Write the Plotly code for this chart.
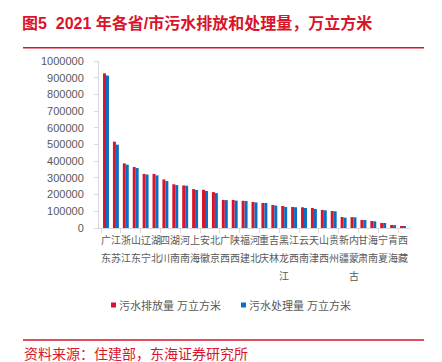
import plotly.graph_objects as go

provinces = ["广东", "江苏", "浙江", "山东", "辽宁", "湖北", "四川", "湖南", "河南", "上海",
             "安徽", "北京", "广西", "陕西", "福建", "河北", "重庆", "吉林", "黑龙江", "江西",
             "云南", "天津", "山西", "贵州", "新疆", "内蒙古", "甘肃", "海南", "宁夏", "青海", "西藏"]

discharge = [926000, 517000, 387000, 365000, 324000, 324000, 291000, 262000, 255000, 233000,
             229000, 215000, 168000, 168000, 163000, 156000, 150000, 138000, 132000, 126000,
             124000, 120000, 108000, 102000, 66000, 65000, 48000, 42000, 30000, 18000, 12000]

treatment = [913000, 499000, 379000, 359000, 320000, 315000, 281000, 257000, 253000, 228000,
             222000, 209000, 167000, 164000, 162000, 153000, 150000, 134000, 126000, 124000,
             120000, 114000, 106000, 100000, 62000, 64000, 48000, 40000, 30000, 17000, 8000]

series_names = ["污水排放量 万立方米", "污水处理量 万立方米"]
title_text = "图5  2021 年各省/市污水排放和处理量，万立方米"
source_text = "资料来源：住建部，东海证券研究所"

RED = "#d9142b"
BLUE = "#0a6fc2"
GRAY = "#595959"
AXIS = "#d9d9d9"
FONT = "Liberation Sans, Arial, Noto Sans CJK SC, sans-serif"

OFF = 8  # page body margin
W, H = 442 - OFF, 362 - OFF
# plot area in page pixels
PL, PR, PT, PB = 99, 410, 61, 228
L, R, T, B = PL - OFF, PR - OFF, PT - OFF, PB - OFF


def px(x):
    return (x - PL) / (PR - PL)


def py(y):
    return (PB - y) / (PB - PT)


fig = go.Figure()
fig.add_bar(x=provinces, y=discharge, name=series_names[0], marker_color=RED,
            marker_line_width=0, showlegend=False)
fig.add_bar(x=provinces, y=treatment, name=series_names[1], marker_color=BLUE,
            marker_line_width=0, showlegend=False)

annotations = []
# vertical category labels (one character per line)
for name in provinces:
    for j, ch in enumerate(name):
        annotations.append(dict(
            x=name, xref="x", y=0, yref="paper", yanchor="middle", xanchor="center",
            yshift=-(12 + 18 * j), text=ch, showarrow=False,
            font=dict(size=10, color=GRAY, family=FONT)))

# legend (manual)
legend_items = [(series_names[0], RED, 111), (series_names[1], BLUE, 241)]
shapes = []
for nm, col, x0 in legend_items:
    shapes.append(dict(type="rect", xref="paper", yref="paper",
                       x0=px(x0), x1=px(x0 + 5), y0=py(302.5), y1=py(307.5),
                       fillcolor=col, line_width=0))
    annotations.append(dict(x=px(x0 + 6), y=py(305), xref="paper", yref="paper",
                            xanchor="left", yanchor="middle", text=nm, showarrow=False,
                            font=dict(size=11, color=GRAY, family=FONT)))

# header / footer lines
shapes.append(dict(type="line", xref="paper", yref="paper", x0=px(23), x1=px(424),
                   y0=py(47.7), y1=py(47.7), line=dict(color=RED, width=1.5)))
shapes.append(dict(type="line", xref="paper", yref="paper", x0=px(23), x1=px(424),
                   y0=py(340), y1=py(340), line=dict(color=RED, width=1.5)))

annotations.append(dict(x=px(22), y=py(354), xref="paper", yref="paper",
                        xanchor="left", yanchor="middle", text=source_text, showarrow=False,
                        font=dict(size=14, color=RED, family=FONT)))

fig.update_layout(
    width=W, height=H, autosize=False,
    margin=dict(l=L, r=W - R, t=T, b=H - B, pad=0),
    paper_bgcolor="white", plot_bgcolor="white",
    barmode="group", bargap=0.4, bargroupgap=0,
    title=dict(text="<b>" + title_text + "</b>", x=(22 - OFF) / W, xref="container",
               xanchor="left", y=1 - (23 - OFF) / H, yref="container", yanchor="middle",
               font=dict(size=16, color=RED, family=FONT)),
    font=dict(family=FONT, color=GRAY),
    xaxis=dict(showticklabels=False, showline=True, linecolor=AXIS, linewidth=1,
               ticks="outside", tickson="boundaries", ticklen=4, tickcolor=AXIS,
               showgrid=False, zeroline=False),
    yaxis=dict(range=[0, 1000000], dtick=100000, tickformat="d", showline=True,
               linecolor=AXIS, linewidth=1, ticks="outside", ticklen=4, tickcolor=AXIS,
               showgrid=False, zeroline=False, ticklabelstandoff=8,
               tickfont=dict(size=11, color=GRAY, family=FONT)),
    annotations=annotations,
    shapes=shapes,
)

fig.write_html("out.html")
